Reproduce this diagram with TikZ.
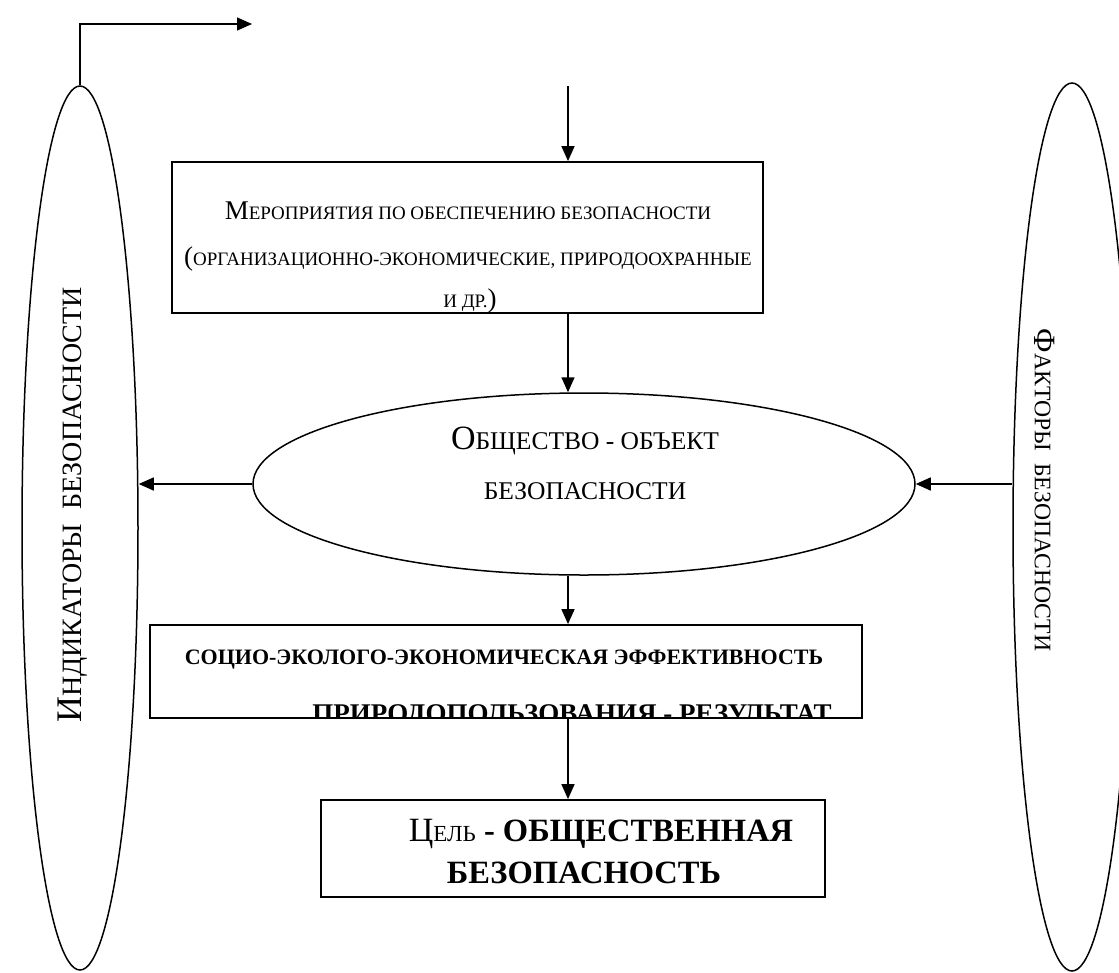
\documentclass[tikz,border=0pt]{standalone}
\usepackage{fontspec}
\setmainfont{Liberation Serif}
\usetikzlibrary{shapes.geometric,arrows.meta}
\newcommand{\capit}[2][27]{{\fontsize{#1}{#1}\selectfont #2}}

\tikzset{
  box/.style={draw, line width=1.8pt, inner sep=0pt},
  oval/.style={draw, ellipse, line width=1.5pt, inner sep=0pt},
  labl/.style={inner sep=0pt, anchor=base},
  link/.style={line width=1.5pt, -{Triangle[length=15pt,width=13pt]}},
}

\begin{document}
\begin{tikzpicture}[x=1pt,y=-1pt]
\useasboundingbox (0,0) rectangle (1119,972);
% ellipses
\node[oval, minimum width=116pt, minimum height=884pt] (indic) at (80,528) {};
\node[oval, minimum width=118pt, minimum height=888pt] (factors) at (1072,527) {};
\node[oval, minimum width=662pt, minimum height=182pt] (society) at (584,484) {};
% boxes
\node[box, minimum width=591pt, minimum height=151pt] (measures) at (467.5,237.5) {};
\node[box, minimum width=712pt, minimum height=93pt] (result) at (506,671.5) {};
\node[box, minimum width=504pt, minimum height=97pt] (goal) at (573,848.5) {};

% texts
\node[labl, font=\fontsize{19}{19}\selectfont] (m1) at (468,219) {\capit{М}ЕРОПРИЯТИЯ ПО ОБЕСПЕЧЕНИЮ БЕЗОПАСНОСТИ};
\node[labl, font=\fontsize{19}{19}\selectfont] (m2) at (468,265) {\capit{(}ОРГАНИЗАЦИОННО-ЭКОНОМИЧЕСКИЕ, ПРИРОДООХРАННЫЕ};
\node[labl, font=\fontsize{19}{19}\selectfont] (m3) at (470,307) {И ДР.\capit{)}};

\node[labl, font=\fontsize{25.5}{25.5}\selectfont] (s1) at (585,449) {\capit[34]{О}БЩЕСТВО - ОБЪЕКТ};
\node[labl, font=\fontsize{25.5}{25.5}\selectfont] (s2) at (585,499) {БЕЗОПАСНОСТИ};

\node[labl, font=\fontsize{22}{22}\selectfont\bfseries] (r1) at (504,664) {СОЦИО-ЭКОЛОГО-ЭКОНОМИЧЕСКАЯ ЭФФЕКТИВНОСТЬ};
\begin{scope}
  \clip (result.north west) rectangle (result.south east);
  \node[labl, font=\fontsize{27}{27}\selectfont\bfseries] (r2) at (572,722) {ПРИРОДОПОЛЬЗОВАНИЯ - РЕЗУЛЬТАТ};
\end{scope}

\node[labl, font=\fontsize{32.5}{32.5}\selectfont\bfseries] (g1) at (601,841) {{\mdseries\capit[34]{Ц}\fontsize{23}{23}\selectfont ЕЛЬ} - ОБЩЕСТВЕННАЯ};
\node[labl, font=\fontsize{32.5}{32.5}\selectfont\bfseries] (g2) at (584,883) {БЕЗОПАСНОСТЬ};

\node[inner sep=0pt, rotate=90, font=\fontsize{28}{28}\selectfont] (i1) at (73,505) {\capit[36]{И}НДИКАТОРЫ\ \ БЕЗОПАСНОСТИ};
\node[inner sep=0pt, rotate=-90, font=\fontsize{23.7}{23.7}\selectfont] (f1) at (1045,490) {\capit[31]{Ф}АКТОРЫ\ \ БЕЗОПАСНОСТИ};

% connectors
\coordinate (feed) at (568,86);
\coordinate (exit) at (252,24);
\draw[link] (indic.north) |- (exit);
\draw[link] (feed) -- (feed |- measures.north);
\draw[link] (feed |- measures.south) -- (feed |- society.north);
\draw[link] (feed |- society.south) -- (feed |- result.north);
\draw[link] (feed |- result.south) -- (feed |- goal.north);
\draw[link] (society.west) -- (indic.east |- society.west);
\draw[link] (factors.west |- society.east) -- (society.east);
\end{tikzpicture}
\end{document}
